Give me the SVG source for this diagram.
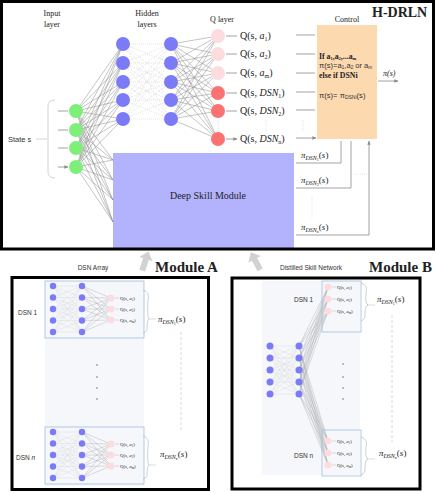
<svg xmlns="http://www.w3.org/2000/svg" width="436" height="493" viewBox="0 0 436 493">
<style>
.serif{font-family:"Liberation Serif","DejaVu Serif",serif;fill:#222}
.sans{font-family:"Liberation Sans","DejaVu Sans",sans-serif;fill:#333}
.hid{fill:#7b7bf7}
.inp{fill:#7ef07a}
.qa{fill:#fddcdf}
.qd{fill:#fb7272}
.conn{stroke:#8a8a8a;stroke-width:0.5;fill:none}
.dots{stroke:#c4c4c4;stroke-width:0.5;stroke-dasharray:1 1;fill:none}
.lite{stroke:#d6d6d6;stroke-width:0.4;fill:none}
.mid{stroke:#a8a8a8;stroke-width:0.4;fill:none}
.ln{stroke:#8a8a8a;stroke-width:0.8;fill:none}
.panel{fill:none;stroke:#000;stroke-width:3}
.q{font-size:10px}
.qs{font-size:4.8px}
.pi{font-size:9px}
</style>
<defs>
<marker id="ah" viewBox="0 0 6 6" refX="5.5" refY="3" markerWidth="5" markerHeight="5" orient="auto"><path d="M0 0.5L6 3L0 5.5z" fill="#8a8a8a"/></marker>
<g id="miniNet">
<path class="lite" d="M53 286L82 286M53 286L82 297.5M53 286L82 309M53 286L82 320.5M53 286L82 332M53 297.5L82 286M53 297.5L82 297.5M53 297.5L82 309M53 297.5L82 320.5M53 297.5L82 332M53 309L82 286M53 309L82 297.5M53 309L82 309M53 309L82 320.5M53 309L82 332M53 320.5L82 286M53 320.5L82 297.5M53 320.5L82 309M53 320.5L82 320.5M53 320.5L82 332M53 332L82 286M53 332L82 297.5M53 332L82 309M53 332L82 320.5M53 332L82 332"/>
<path class="mid" d="M82 286L111 298M82 286L111 309M82 286L111 320M82 297.5L111 298M82 297.5L111 309M82 297.5L111 320M82 309L111 298M82 309L111 309M82 309L111 320M82 320.5L111 298M82 320.5L111 309M82 320.5L111 320M82 332L111 298M82 332L111 309M82 332L111 320"/>
<rect x="45" y="281" width="99" height="57" fill="none" stroke="#9dbde2" stroke-width="0.8"/>
<g class="hid"><circle cx="53" cy="286" r="3.2"/><circle cx="53" cy="297.5" r="3.2"/><circle cx="53" cy="309" r="3.2"/><circle cx="53" cy="320.5" r="3.2"/><circle cx="53" cy="332" r="3.2"/><circle cx="82" cy="286" r="3.2"/><circle cx="82" cy="297.5" r="3.2"/><circle cx="82" cy="309" r="3.2"/><circle cx="82" cy="320.5" r="3.2"/><circle cx="82" cy="332" r="3.2"/></g>
<g class="qa"><circle cx="111" cy="298" r="3.6"/><circle cx="111" cy="309" r="3.6"/><circle cx="111" cy="320" r="3.6"/></g>
<path class="mid" d="M115 298H119M115 309H119M115 320H119"/>
<text class="serif qs" x="120" y="299.5">Q(s, <tspan font-style="italic">a</tspan><tspan font-size="3" dy="1">1</tspan><tspan dy="-1">)</tspan></text>
<text class="serif qs" x="120" y="310.5">Q(s, <tspan font-style="italic">a</tspan><tspan font-size="3" dy="1">2</tspan><tspan dy="-1">)</tspan></text>
<text class="serif qs" x="120" y="321.5">Q(s, <tspan font-style="italic">a</tspan><tspan font-size="3" dy="1">m</tspan><tspan dy="-1">)</tspan></text>
<path d="M143 290Q150 292 148 300Q147 318 149 319Q147 320 147 326Q148 332 143 333" fill="none" stroke="#b0b0b0" stroke-width="0.6"/>
<path class="mid" d="M149 319H156"/>
</g>
<g id="qTrip">
<g class="qa"><circle cx="328" cy="0" r="3.6"/><circle cx="328" cy="12" r="3.6"/><circle cx="328" cy="24" r="3.6"/></g>
<path class="mid" d="M332 0H336M332 12H336M332 24H336"/>
<text class="serif qs" x="337" y="1.5">Q(s, <tspan font-style="italic">a</tspan><tspan font-size="3" dy="1">1</tspan><tspan dy="-1">)</tspan></text>
<text class="serif qs" x="337" y="13.5">Q(s, <tspan font-style="italic">a</tspan><tspan font-size="3" dy="1">2</tspan><tspan dy="-1">)</tspan></text>
<text class="serif qs" x="337" y="25.5">Q(s, <tspan font-style="italic">a</tspan><tspan font-size="3" dy="1">m</tspan><tspan dy="-1">)</tspan></text>
<path d="M361 -4Q368 -2 366 6Q365 17 368 18Q365 19 365 26Q366 32 361 34" fill="none" stroke="#b0b0b0" stroke-width="0.6"/>
<path class="mid" d="M367 18H375"/>
</g>
</defs>

<rect width="436" height="493" fill="#fff"/>

<!-- TOP PANEL -->
<rect x="113" y="153" width="181" height="96" fill="#b3b3fd" id="dsmBox"/>
<g id="connectors">
<path class="conn" d="M76 111L123 44M76 111L123 63M76 111L123 82M76 111L123 100M76 111L123 119M76 130L123 44M76 130L123 63M76 130L123 82M76 130L123 100M76 130L123 119M76 148L123 44M76 148L123 63M76 148L123 82M76 148L123 100M76 148L123 119M76 167L123 44M76 167L123 63M76 167L123 82M76 167L123 100M76 167L123 119"/>
<path class="conn" d="M76 111L113 160M76 111L113 180M76 111L113 200M76 111L113 222M76 130L113 160M76 130L113 180M76 130L113 200M76 130L113 222M76 148L113 160M76 148L113 180M76 148L113 200M76 148L113 222M76 167L113 160M76 167L113 180M76 167L113 200M76 167L113 222"/>
<path class="dots" d="M123 44L171 44M123 44L171 63M123 44L171 82M123 44L171 100M123 44L171 119M123 63L171 44M123 63L171 63M123 63L171 82M123 63L171 100M123 63L171 119M123 82L171 44M123 82L171 63M123 82L171 82M123 82L171 100M123 82L171 119M123 100L171 44M123 100L171 63M123 100L171 82M123 100L171 100M123 100L171 119M123 119L171 44M123 119L171 63M123 119L171 82M123 119L171 100M123 119L171 119"/>
<path class="conn" d="M171 44L218 36M171 44L218 54M171 44L218 73M171 44L218 93M171 44L218 111M171 44L218 139M171 63L218 36M171 63L218 54M171 63L218 73M171 63L218 93M171 63L218 111M171 63L218 139M171 82L218 36M171 82L218 54M171 82L218 73M171 82L218 93M171 82L218 111M171 82L218 139M171 100L218 36M171 100L218 54M171 100L218 73M171 100L218 93M171 100L218 111M171 100L218 139M171 119L218 36M171 119L218 54M171 119L218 73M171 119L218 93M171 119L218 111M171 119L218 139"/>
<path class="ln" marker-end="url(#ah)" d="M58 111H68M58 130H68M58 148H68M58 167H68"/>
<path d="M36 139H47M55 100Q48 100 48 106V172Q48 178 55 178" fill="none" stroke="#c8c8c8" stroke-width="0.8"/>
<path class="ln" marker-end="url(#ah)" d="M226 36H237M226 54H237M226 73H237M226 93H237M226 111H237M226 139H237"/>
<path class="dots" stroke="#aaa" d="M218 120V132M266 120V132M303 120V132"/>
<path class="ln" d="M296 35H315M296 54H315M296 73H315M296 92H315M296 110H315"/>
<path class="ln" marker-end="url(#ah)" d="M296 138H316"/>
<path class="ln" marker-end="url(#ah)" d="M378 81H398"/>
<path class="ln" marker-end="url(#ah)" d="M296 163H341V141M296 188H351V141M296 235H369V141"/>
<path class="dots" stroke="#aaa" d="M354 174H367M312 197V218"/>
</g>

<g id="inputLayer" class="inp"><circle cx="76" cy="111" r="7"/><circle cx="76" cy="130" r="7"/><circle cx="76" cy="148" r="7"/><circle cx="76" cy="167" r="7"/></g>
<g id="hidden1" class="hid"><circle cx="123" cy="44" r="7"/><circle cx="123" cy="63" r="7"/><circle cx="123" cy="82" r="7"/><circle cx="123" cy="100" r="7"/><circle cx="123" cy="119" r="7"/></g>
<g id="hidden2" class="hid"><circle cx="171" cy="44" r="7"/><circle cx="171" cy="63" r="7"/><circle cx="171" cy="82" r="7"/><circle cx="171" cy="100" r="7"/><circle cx="171" cy="119" r="7"/></g>
<g id="qLayer"><circle class="qa" cx="218" cy="36" r="7"/><circle class="qa" cx="218" cy="54" r="7"/><circle class="qa" cx="218" cy="73" r="7"/><circle class="qd" cx="218" cy="93" r="7"/><circle class="qd" cx="218" cy="111" r="7"/><circle class="qd" cx="218" cy="139" r="7"/></g>

<g id="labels">
<text class="serif" font-size="8" text-anchor="middle" x="52" y="16">Input</text>
<text class="serif" font-size="8" text-anchor="middle" x="52" y="27">layer</text>
<text class="serif" font-size="8" text-anchor="middle" x="147" y="16">Hidden</text>
<text class="serif" font-size="8" text-anchor="middle" x="147" y="27">layers</text>
<text class="serif" font-size="8" text-anchor="middle" x="222" y="22">Q layer</text>
<text class="serif" font-size="8" text-anchor="middle" x="347" y="22">Control</text>
<text class="sans" font-size="7.5" x="8" y="142">State s</text>
<text class="serif" font-size="14" font-weight="bold" x="372" y="17" fill="#111">H-DRLN</text>
</g>

<g id="qLabels" class="serif q">
<text x="240" y="39">Q(s, <tspan font-style="italic">a</tspan><tspan font-size="6" dy="2">1</tspan><tspan dy="-2">)</tspan></text>
<text x="240" y="57">Q(s, <tspan font-style="italic">a</tspan><tspan font-size="6" dy="2">2</tspan><tspan dy="-2">)</tspan></text>
<text x="240" y="76">Q(s, <tspan font-style="italic">a</tspan><tspan font-size="6" dy="2">m</tspan><tspan dy="-2">)</tspan></text>
<text x="240" y="96">Q(s, <tspan font-style="italic">DSN</tspan><tspan font-size="6" dy="2">1</tspan><tspan dy="-2">)</tspan></text>
<text x="240" y="114">Q(s, <tspan font-style="italic">DSN</tspan><tspan font-size="6" dy="2">2</tspan><tspan dy="-2">)</tspan></text>
<text x="240" y="142">Q(s, <tspan font-style="italic">DSN</tspan><tspan font-size="6" dy="2">n</tspan><tspan dy="-2">)</tspan></text>
</g>

<g id="control">
<rect x="317" y="25" width="60" height="114" fill="#fdd9b0"/>
<text class="serif" font-size="7.8" font-weight="bold" x="319" y="59">If a<tspan font-size="4.5" dy="1">1</tspan><tspan dy="-1">,a</tspan><tspan font-size="4.5" dy="1">2</tspan><tspan dy="-1">,...a</tspan><tspan font-size="4.5" dy="1">m</tspan></text>
<text class="sans" font-size="7.6" x="319" y="68">π(s)=a<tspan font-size="4.5" dy="1">1</tspan><tspan dy="-1">,a</tspan><tspan font-size="4.5" dy="1">2</tspan><tspan dy="-1"> or a</tspan><tspan font-size="4.5" dy="1">m</tspan></text>
<text class="serif" font-size="7.8" font-weight="bold" x="319" y="78">else if DSNi</text>
<text class="sans" font-size="7.6" x="319" y="98">π(s)= π<tspan font-size="5" dy="1">DSNi</tspan><tspan dy="-1">(s)</tspan></text>
<text class="serif" font-size="8" x="383" y="76" font-style="italic">π(s)</text>
</g>

<g id="deepSkillModule">
<text class="serif" font-size="10" text-anchor="middle" x="208" y="199" fill="#2a2a66">Deep Skill Module</text>
</g>

<g id="dsnOutputs" class="serif pi">
<text x="301" y="158"><tspan font-style="italic">π</tspan><tspan font-size="6" dy="1.5" font-style="italic">DSN</tspan><tspan font-size="4" dy="1">1</tspan><tspan dy="-2.5">(</tspan><tspan font-style="italic">s</tspan>)</text>
<text x="301" y="183"><tspan font-style="italic">π</tspan><tspan font-size="6" dy="1.5" font-style="italic">DSN</tspan><tspan font-size="4" dy="1">2</tspan><tspan dy="-2.5">(</tspan><tspan font-style="italic">s</tspan>)</text>
<text x="301" y="230"><tspan font-style="italic">π</tspan><tspan font-size="6" dy="1.5" font-style="italic">DSN</tspan><tspan font-size="4" dy="1">n</tspan><tspan dy="-2.5">(</tspan><tspan font-style="italic">s</tspan>)</text>
</g>

<rect class="panel" x="1.5" y="1.5" width="432" height="247.5"/>

<g id="upArrows" fill="#d2d2d2">
<path transform="rotate(18 145 262)" d="M142 271V259H138L145 251L152 259H148V271Z"/>
<path transform="rotate(-28 256 262)" d="M253 271V259H249L256 251L263 259H259V271Z"/>
</g>

<g id="titles">
<text class="serif" font-size="15" font-weight="bold" x="155" y="272" fill="#111">Module A</text>
<text class="serif" font-size="15" font-weight="bold" x="369" y="272" fill="#111">Module B</text>
<text class="sans" font-size="6.5" text-anchor="middle" x="93" y="270">DSN Array</text>
<text class="sans" font-size="6.5" text-anchor="middle" x="311" y="270">Distilled Skill Network</text>
</g>

<g id="moduleA">
<rect x="45" y="281" width="99" height="205" fill="#f6f7fb"/>
<use href="#miniNet"/>
<use href="#miniNet" transform="translate(0 146)"/>
<g fill="#555"><circle cx="97" cy="365" r="0.7"/><circle cx="97" cy="377" r="0.7"/><circle cx="97" cy="388" r="0.7"/><circle cx="97" cy="399" r="0.7"/></g>
<path d="M181 332V432" stroke="#d0d0d0" stroke-width="0.8" stroke-dasharray="3 2"/>
<text class="sans" font-size="6.5" x="18" y="315">DSN 1</text>
<text class="sans" font-size="6.5" x="16" y="460">DSN <tspan font-style="italic">n</tspan></text>
<text class="serif pi" x="158" y="322"><tspan font-style="italic">π</tspan><tspan font-size="6" dy="1.5" font-style="italic">DSN</tspan><tspan font-size="4" dy="1">1</tspan><tspan dy="-2.5">(</tspan><tspan font-style="italic">s</tspan>)</text>
<text class="serif pi" x="160" y="457"><tspan font-style="italic">π</tspan><tspan font-size="6" dy="1.5" font-style="italic">DSN</tspan><tspan font-size="4" dy="1">n</tspan><tspan dy="-2.5">(</tspan><tspan font-style="italic">s</tspan>)</text>
</g>
<rect class="panel" x="12" y="277.5" width="196.5" height="212" stroke-width="2.5"/>

<g id="moduleB">
<rect x="262" y="281" width="98" height="194" fill="#f6f7fb"/>
<path class="lite" d="M270 346L299 346M270 346L299 358M270 346L299 370M270 346L299 382M270 346L299 394M270 358L299 346M270 358L299 358M270 358L299 370M270 358L299 382M270 358L299 394M270 370L299 346M270 370L299 358M270 370L299 370M270 370L299 382M270 370L299 394M270 382L299 346M270 382L299 358M270 382L299 370M270 382L299 382M270 382L299 394M270 394L299 346M270 394L299 358M270 394L299 370M270 394L299 382M270 394L299 394"/>
<path class="mid" d="M299 346L328 287M299 346L328 299M299 346L328 311M299 358L328 287M299 358L328 299M299 358L328 311M299 370L328 287M299 370L328 299M299 370L328 311M299 382L328 287M299 382L328 299M299 382L328 311M299 394L328 287M299 394L328 299M299 394L328 311M299 346L328 441M299 346L328 453M299 346L328 465M299 358L328 441M299 358L328 453M299 358L328 465M299 370L328 441M299 370L328 453M299 370L328 465M299 382L328 441M299 382L328 453M299 382L328 465M299 394L328 441M299 394L328 453M299 394L328 465"/>
<rect x="322" y="281" width="39" height="51" fill="none" stroke="#9dbde2" stroke-width="0.8"/>
<rect x="322" y="430" width="39" height="46" fill="none" stroke="#9dbde2" stroke-width="0.8"/>
<use href="#qTrip" transform="translate(0 287)"/>
<use href="#qTrip" transform="translate(0 441)"/>
<g class="hid"><circle cx="270" cy="346" r="3.5"/><circle cx="270" cy="358" r="3.5"/><circle cx="270" cy="370" r="3.5"/><circle cx="270" cy="382" r="3.5"/><circle cx="270" cy="394" r="3.5"/><circle cx="299" cy="346" r="3.5"/><circle cx="299" cy="358" r="3.5"/><circle cx="299" cy="370" r="3.5"/><circle cx="299" cy="382" r="3.5"/><circle cx="299" cy="394" r="3.5"/></g>
<g fill="#555"><circle cx="343" cy="364" r="0.7"/><circle cx="343" cy="377" r="0.7"/><circle cx="343" cy="388" r="0.7"/><circle cx="343" cy="399" r="0.7"/></g>
<path d="M392 315V442" stroke="#d0d0d0" stroke-width="0.8" stroke-dasharray="3 2"/>
<text class="sans" font-size="6.5" x="294" y="302">DSN 1</text>
<text class="sans" font-size="6.5" x="294" y="458">DSN n</text>
<text class="serif pi" x="377" y="302"><tspan font-style="italic">π</tspan><tspan font-size="6" dy="1.5" font-style="italic">DSN</tspan><tspan font-size="4" dy="1">1</tspan><tspan dy="-2.5">(</tspan><tspan font-style="italic">s</tspan>)</text>
<text class="serif pi" x="379" y="456"><tspan font-style="italic">π</tspan><tspan font-size="6" dy="1.5" font-style="italic">DSN</tspan><tspan font-size="4" dy="1">n</tspan><tspan dy="-2.5">(</tspan><tspan font-style="italic">s</tspan>)</text>
</g>
<rect class="panel" x="232" y="278" width="188" height="211" stroke-width="2.5"/>
</svg>
